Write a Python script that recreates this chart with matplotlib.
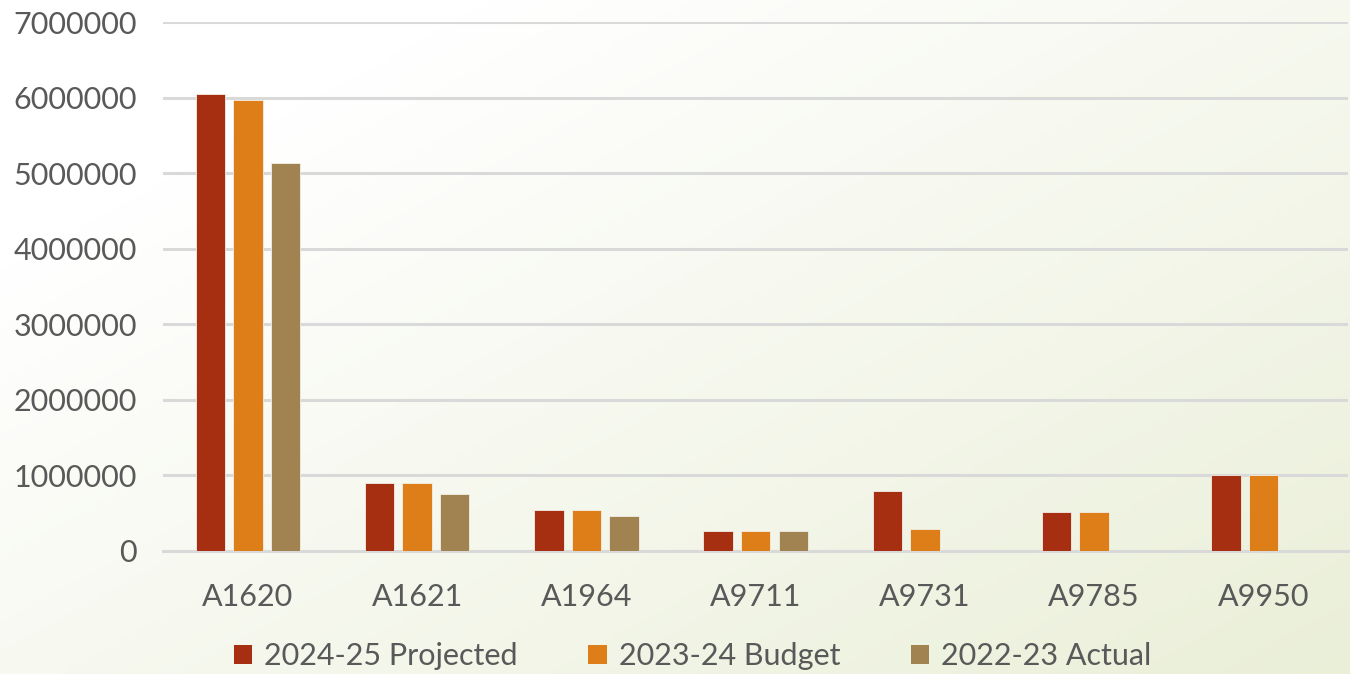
import matplotlib
matplotlib.use("Agg")
import matplotlib.pyplot as plt
import numpy as np
from matplotlib.patches import Patch

categories = ["A1620", "A1621", "A1964", "A9711", "A9731", "A9785", "A9950"]
series_names = ["2024-25 Projected", "2023-24 Budget", "2022-23 Actual"]
projected = [6050000, 895000, 545000, 265000, 790000, 510000, 1000000]
budget = [5975000, 895000, 545000, 265000, 290000, 510000, 1000000]
actual = [5130000, 750000, 465000, 265000, 0, 0, 0]
colors = ["#a52f10", "#de7e18", "#a08350"]
yticks = [0, 1000000, 2000000, 3000000, 4000000, 5000000, 6000000, 7000000]

plt.rcParams['font.family'] = ['Lato', 'DejaVu Sans']
fig = plt.figure(figsize=(13.5, 6.74), dpi=100)

# background gradient
bg = fig.add_axes([0, 0, 1, 1], zorder=-10)
h, w = 200, 400
yy, xx = np.mgrid[0:1:h*1j, 0:1:w*1j]
t = np.clip((xx * 0.55 + yy * 0.5) - 0.2, 0, 1) / 0.85
t = np.clip(t, 0, 1)
c0 = np.array([1.0, 1.0, 1.0])
c1 = np.array([0xea, 0xef, 0xd8]) / 255
img = c0[None, None, :] * (1 - t[..., None]) + c1[None, None, :] * t[..., None]
bg.imshow(img, aspect='auto', extent=[0, 1, 0, 1], origin='upper')
bg.axis('off')

ax = fig.add_axes([0.121, 0.1825, 0.8775, 0.7845])
ax.patch.set_alpha(0)
x = np.arange(len(categories))
bw = 0.174
step = 0.222
for i, (vals, col, name) in enumerate(zip([projected, budget, actual], colors, series_names)):
    ax.bar(x + (i - 1) * step, vals, width=bw, color=col, label=name, zorder=3,
           edgecolor='#f3eee6', linewidth=0.6)

ax.set_xlim(-0.5, len(categories) - 0.5)
ax.set_ylim(0, 7000000)
ax.set_yticks(yticks)
ax.set_yticklabels([str(v) for v in yticks])
ax.set_xticks(x)
ax.set_xticklabels(categories)
ax.grid(axis='y', color='#d9d9d9', linewidth=2.2, zorder=0)
ax.axhline(0, color='#d9d9d9', linewidth=2.2, zorder=1, clip_on=False)
ax.set_axisbelow(True)
for s in ax.spines.values():
    s.set_visible(False)
ax.tick_params(axis='both', length=0, labelsize=22, colors='#595959')
ax.tick_params(axis='y', pad=19)
ax.tick_params(axis='x', pad=23)

handles = [Patch(facecolor=c, label=n) for c, n in zip(colors, series_names)]
fig.legend(handles=handles, loc='center', bbox_to_anchor=(0.513, 0.026), ncol=3,
           frameon=False, fontsize=22, labelcolor='#595959', handlelength=0.6,
           handleheight=0.6, handletextpad=0.4, columnspacing=2.3, borderpad=0)

fig.savefig("out.png", dpi=100)
